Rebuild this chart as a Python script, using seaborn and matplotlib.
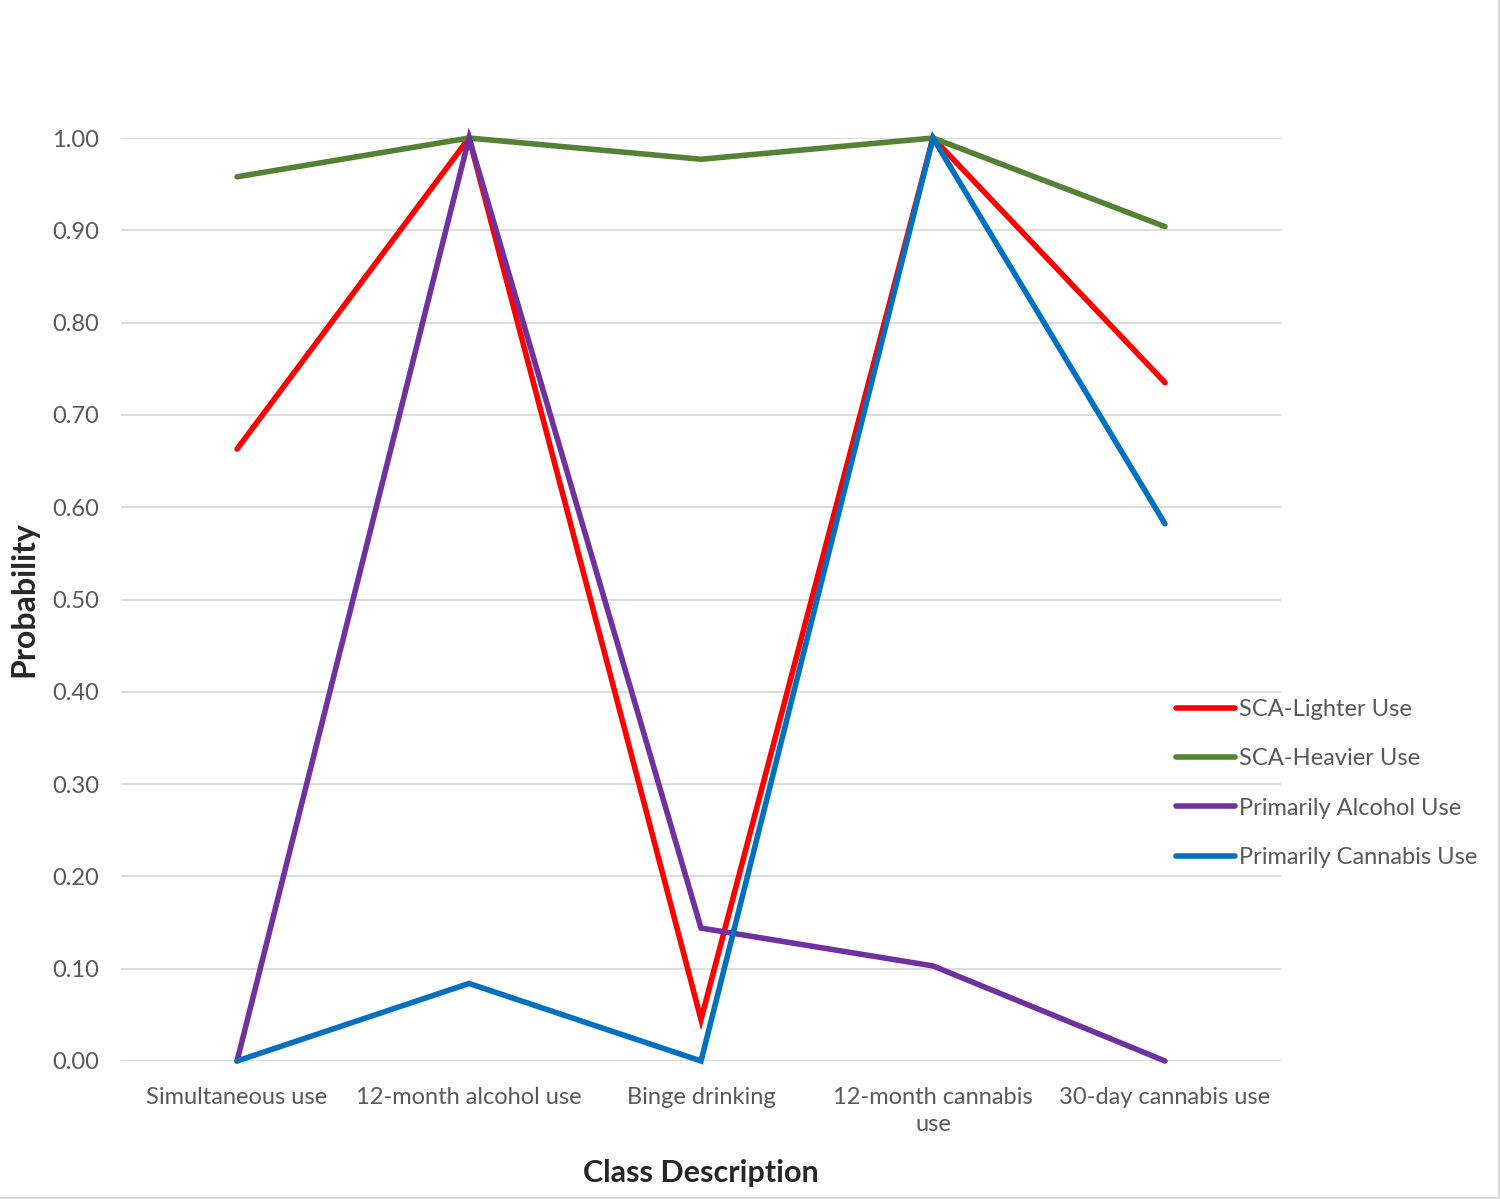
import pandas as pd
import numpy as np
import matplotlib
matplotlib.use("Agg")
import matplotlib.pyplot as plt
from matplotlib.lines import Line2D
import seaborn as sns

# Categories along the x axis
categories = ["Simultaneous use", "12-month alcohol use", "Binge drinking",
              "12-month cannabis\nuse", "30-day cannabis use"]

# Class probabilities
sca_lighter = [0.663, 1.000, 0.045, 1.000, 0.735]
sca_heavier = [0.958, 1.000, 0.977, 1.000, 0.904]
alcohol_use = [0.000, 1.000, 0.144, 0.103, 0.000]
cannabis_use = [0.000, 0.084, 0.000, 1.000, 0.582]

series_names = ["SCA-Lighter Use", "SCA-Heavier Use",
                "Primarily Alcohol Use", "Primarily Cannabis Use"]
series_colors = ["#FF0000", "#548235", "#7030A0", "#0070C0"]

y_ticks = [0.0, 0.1, 0.2, 0.3, 0.4, 0.5, 0.6, 0.7, 0.8, 0.9, 1.0]

# Build long-format table
rows = []
for name, vals in zip(series_names, [sca_lighter, sca_heavier, alcohol_use, cannabis_use]):
    for i, v in enumerate(vals):
        rows.append({"pos": i, "Category": categories[i], "Class": name, "Probability": v})
df = pd.DataFrame(rows)

sns.set_style("white")
plt.rcParams["font.family"] = ["Lato", "DejaVu Sans"]

fig = plt.figure(figsize=(15, 11.99), dpi=100)
ax = fig.add_axes([0.0807, 0.1151, 0.7733, 0.7698])

sns.lineplot(data=df, x="pos", y="Probability", hue="Class",
             hue_order=series_names, palette=series_colors,
             sort=False, linewidth=4, ax=ax, clip_on=False,
             solid_capstyle="round", solid_joinstyle="miter")

ax.set_xlim(-0.5, 4.5)
ax.set_ylim(0, 1)
ax.set_xticks(range(len(categories)))
ax.set_xticklabels(categories, linespacing=1.35)
ax.set_yticks(y_ticks)
ax.set_yticklabels([f"{t:.2f}" for t in y_ticks])
ax.tick_params(axis="both", labelsize=17, colors="#595959", length=0)
ax.tick_params(axis="x", pad=19)
ax.tick_params(axis="y", pad=16)

ax.grid(axis="y", color="#D9D9D9", linewidth=1.3)
ax.set_axisbelow(True)
for s in ax.spines.values():
    s.set_visible(False)

ax.set_xlabel("Class Description", fontsize=22, fontweight="bold", labelpad=17)
ax.set_ylabel("Probability", fontsize=23, fontweight="bold", labelpad=10)

handles, labels = ax.get_legend_handles_labels()
ax.legend(handles, labels, loc="upper left", bbox_to_anchor=(0.784, 0.417),
          bbox_transform=fig.transFigure, frameon=False, fontsize=17,
          handlelength=2.5, handletextpad=0.15, labelspacing=1.2,
          borderaxespad=0, borderpad=0, labelcolor="#595959")

# light frame on right and bottom edges like the original export
fig.add_artist(Line2D([0, 1], [0.001, 0.001], transform=fig.transFigure,
                      color="#D9D9D9", linewidth=2))
fig.add_artist(Line2D([0.999, 0.999], [0, 1], transform=fig.transFigure,
                      color="#D9D9D9", linewidth=2))

fig.savefig("out.png", dpi=100)
